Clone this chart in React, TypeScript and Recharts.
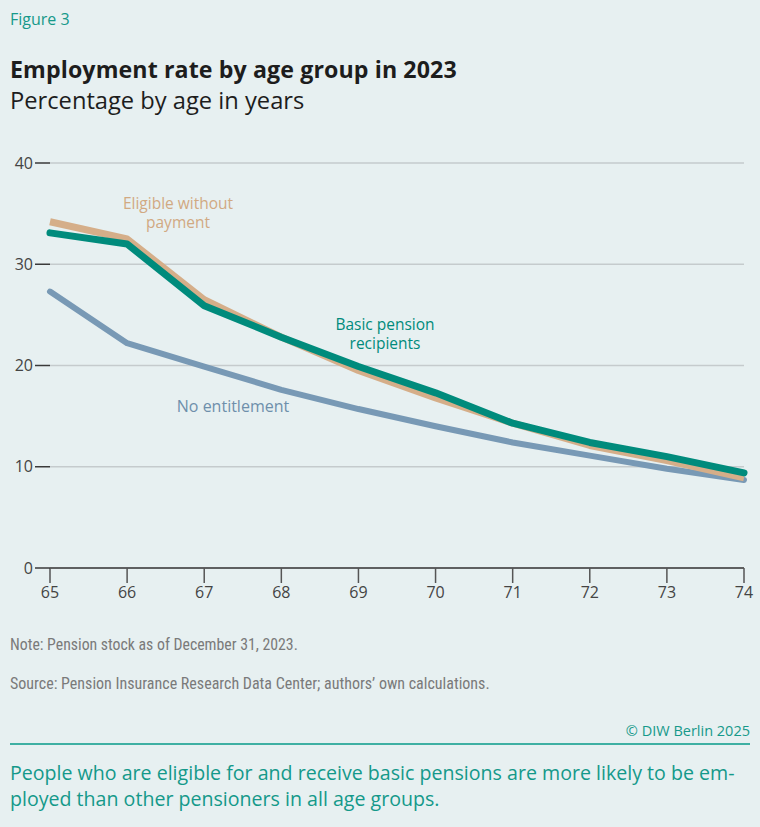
import React from "react";
import { LineChart, Line, XAxis, YAxis, CartesianGrid } from "recharts";

const ages = [65, 66, 67, 68, 69, 70, 71, 72, 73, 74];
const eligibleWithoutPayment = [34.2, 32.5, 26.5, 22.8, 19.5, 16.8, 14.3, 12.1, 10.6, 8.9];
const basicPension = [33.1, 32.0, 25.9, 22.8, 19.9, 17.3, 14.3, 12.4, 11.0, 9.4];
const noEntitlement = [27.3, 22.2, 19.9, 17.6, 15.7, 14.0, 12.4, 11.1, 9.8, 8.7];
const yTicks = [0, 10, 20, 30, 40];

const data = ages.map((a, i) => ({
  age: a,
  eligible: eligibleWithoutPayment[i],
  basic: basicPension[i],
  none: noEntitlement[i],
}));

const BG = "#e7f0f1";
const TEAL = "#008b7c";
const TAN = "#d5ae89";
const BLUE = "#7899b5";
const FONT = "'Open Sans', 'Noto Sans', sans-serif";
const NARROW = "'Liberation Sans Narrow', 'Roboto Condensed', 'Open Sans', sans-serif";

export default function App() {
  return (
    <div
      style={{
        position: "absolute",
        left: 0,
        top: 0,
        width: 760,
        height: 827,
        background: BG,
        fontFamily: FONT,
        overflow: "hidden",
      }}
    >
      <div style={{ position: "absolute", left: 10, top: 8, fontSize: 16, color: "#16998a", fontWeight: 500 }}>
        Figure 3
      </div>
      <div style={{ position: "absolute", left: 10, top: 53, fontSize: 23.2, fontWeight: 700, color: "#1d1d1d", letterSpacing: 0.1 }}>
        Employment rate by age group in 2023
      </div>
      <div style={{ position: "absolute", left: 10, top: 84, fontSize: 23.7, color: "#1d1d1d" }}>
        Percentage by age in years
      </div>

      <div style={{ position: "absolute", left: 0, top: 0 }}>
        <LineChart
          width={760}
          height={620}
          data={data}
          margin={{ top: 163, right: 16, left: 0, bottom: 0 }}
        >
          <CartesianGrid horizontal vertical={false} stroke="#c5cbcd" strokeWidth={1.5} />
          <XAxis
            dataKey="age"
            type="category"
            axisLine={{ stroke: "#3a3a3a", strokeWidth: 1.5 }}
            tickLine={{ stroke: "#555", strokeWidth: 1.5 }}
            tickSize={15}
            tickMargin={4}
            height={52}
            padding={{ left: 0, right: 0 }}
            tick={{ fill: "#444", fontSize: 16, fontFamily: FONT }}
            interval={0}
          />
          <YAxis
            type="number"
            domain={[0, 40]}
            ticks={yTicks}
            width={50}
            axisLine={false}
            tickLine={{ stroke: "#3a3a3a", strokeWidth: 1.5 }}
            tickSize={15}
            tickMargin={2}
            tick={{ fill: "#444", fontSize: 16, fontFamily: FONT }}
          />
          <Line
            dataKey="none"
            stroke={BLUE}
            strokeWidth={6}
            dot={false}
            isAnimationActive={false}
            strokeLinejoin="round"
            strokeLinecap="round"
            type="linear"
          />
          <Line
            dataKey="eligible"
            stroke={TAN}
            strokeWidth={7}
            dot={false}
            isAnimationActive={false}
            strokeLinejoin="round"
            type="linear"
          />
          <Line
            dataKey="basic"
            stroke={TEAL}
            strokeWidth={7}
            dot={false}
            isAnimationActive={false}
            strokeLinejoin="round"
            strokeLinecap="round"
            type="linear"
          />
        </LineChart>
      </div>

      <div style={{ position: "absolute", left: 98, top: 194, width: 160, textAlign: "center", fontSize: 15.5, lineHeight: "18.5px", color: "#d1a982" }}>
        Eligible without
        <br />
        payment
      </div>
      <div style={{ position: "absolute", left: 305, top: 315, width: 160, textAlign: "center", fontSize: 15.5, lineHeight: "18.5px", color: TEAL }}>
        Basic pension
        <br />
        recipients
      </div>
      <div style={{ position: "absolute", left: 153, top: 396, width: 160, textAlign: "center", fontSize: 16, lineHeight: "20px", color: "#6e8fab" }}>
        No entitlement
      </div>

      <div style={{ position: "absolute", left: 10, top: 635, fontSize: 15.8, color: "#7a7a7a", fontFamily: NARROW }}>
        Note: Pension stock as of December 31, 2023.
      </div>
      <div style={{ position: "absolute", left: 10, top: 674, fontSize: 16, color: "#7a7a7a", fontFamily: NARROW }}>
        Source: Pension Insurance Research Data Center; authors’ own calculations.
      </div>
      <div style={{ position: "absolute", right: 10, top: 721, fontSize: 14.5, color: "#16998a" }}>
        © DIW Berlin 2025
      </div>
      <div style={{ position: "absolute", left: 10, top: 743, width: 740, height: 2, background: "#3fb0a3" }} />
      <div style={{ position: "absolute", left: 10, top: 760, width: 750, fontSize: 19.6, lineHeight: "26px", color: "#14998a", whiteSpace: "nowrap" }}>
        People who are eligible for and receive basic pensions are more likely to be em-
        <br />
        ployed than other pensioners in all age groups.
      </div>
    </div>
  );
}
